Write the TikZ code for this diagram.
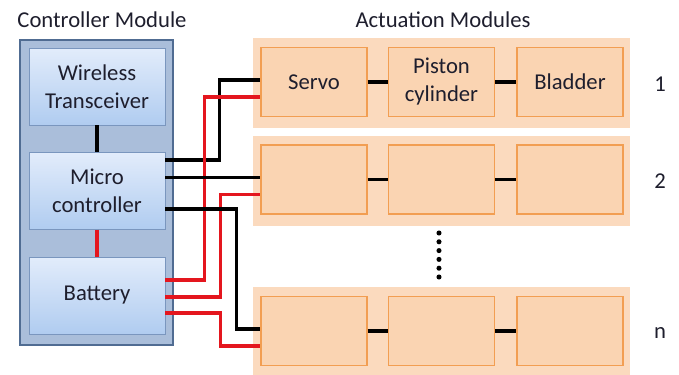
\documentclass[tikz,border=0pt]{standalone}
\usepackage{fontspec}
\setmainfont{Carlito}
\usepackage{xcolor}
\usetikzlibrary{positioning}

\definecolor{ctrlfill}{RGB}{170,190,218}
\definecolor{ctrldraw}{RGB}{80,108,146}
\definecolor{bluetop}{RGB}{226,236,251}
\definecolor{bluebot}{RGB}{176,204,240}
\definecolor{bluedraw}{RGB}{122,150,190}
\definecolor{rowfill}{RGB}{251,218,190}
\definecolor{partfill}{RGB}{250,212,178}
\definecolor{partdraw}{RGB}{242,158,82}
\definecolor{wirered}{RGB}{228,22,30}
\definecolor{txt}{RGB}{30,30,45}

\tikzset{
  ctrlbox/.style={draw=ctrldraw, fill=ctrlfill, line width=1.2pt,
    minimum width=114.75pt, minimum height=228.75pt, inner sep=0pt},
  unit/.style={draw=bluedraw, top color=bluetop, bottom color=bluebot,
    minimum width=102pt, minimum height=57.5pt, inner sep=0pt, align=center},
  rowbox/.style={fill=rowfill, minimum width=282.75pt, minimum height=67.5pt, inner sep=0pt},
  part/.style={draw=partdraw, fill=partfill, line width=1pt,
    minimum width=79.5pt, minimum height=51.75pt, inner sep=0pt, align=center},
  wire/.style={line width=2.4pt},
}

\begin{document}
\begin{tikzpicture}[x=0.75pt,y=-0.75pt,font=\fontsize{17}{21}\selectfont,text=txt]
		\useasboundingbox (0,0) rectangle (679,375);
		
		% controller module
		\node (ctitle) at (102,20) {Controller Module};
		\node[ctrlbox] (ctrl) at (96.5,192.5) {};
		\node[unit] (wireless) at (97,86.5) {Wireless\\Transceiver};
		\node[unit] (micro) at (97,191) {Micro\\controller};
		\node[unit] (battery) at (97,295.5) {Battery};
		\draw[wire] (wireless) -- (micro);
		\draw[wire,wirered] (micro) -- (battery);
		
		% actuation modules
		\node (atitle) at (443,20) {Actuation Modules};
		\foreach \r/\y/\lab/\sa/\pa/\ba in {1/82/1/Servo/{Piston\\cylinder}/Bladder,
		                                   2/179.5/2/{}/{}/{},
		                                   3/331/n/{}/{}/{}}
		{
		\node[rowbox] (row\r) at (441.5,\y+1) {};
		\node[part] (s\r) at (314,\y) {\sa};
		\node[part] (p\r) at (441.5,\y) {\pa};
		\node[part] (b\r) at (570,\y) {\ba};
		\draw[wire] (s\r) -- (p\r);
		\draw[wire] (p\r) -- (b\r);
		\node (num\r) at (660,\y+2) {\lab};
		\coordinate (k\r) at ([yshift=1.5pt]s\r.west);
		\coordinate (q\r) at ([yshift=-11.25pt]s\r.west);
		}
		
		% dots between rows 2 and n
		\foreach \k in {0,...,5}
		{
		\fill (439,233+\k*8.8) circle (1.9pt);
		}
		
		% wiring
		\draw[wire] ([yshift=23.25pt]micro.east) -| ([xshift=-30.75pt]k1) -- (k1);
		\draw[wire,wirered] ([yshift=11.625pt]battery.east) -| ([xshift=-42pt]q1) -- (q1);
		\draw[wire] (micro.east |- k2) -- (k2);
		\draw[wire,wirered] ([yshift=-1.125pt]battery.east) -| ([xshift=-30pt]q2) -- (q2);
		\draw[wire] ([yshift=-13.5pt]micro.east) -| ([xshift=-18pt]k3) -- (k3);
		\draw[wire,wirered] ([yshift=-13.125pt]battery.east) -| ([xshift=-30pt]q3) -- (q3);
	\end{tikzpicture}
\end{document}
